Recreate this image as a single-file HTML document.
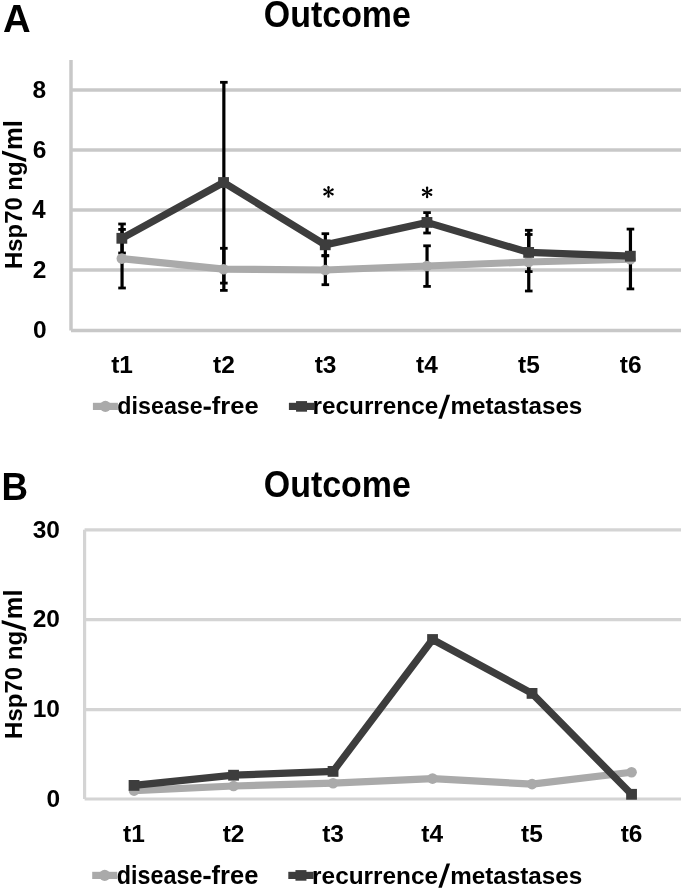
<!DOCTYPE html>
<html><head><meta charset="utf-8"><style>
html,body{margin:0;padding:0;background:#fff;width:685px;height:890px;overflow:hidden}
svg{display:block;filter:grayscale(1)}
.b{font-family:"Liberation Sans",sans-serif;font-weight:bold;fill:#000}
</style></head><body>
<svg width="685" height="890" viewBox="0 0 685 890">
<rect width="685" height="890" fill="#fff"/>
<text transform="translate(2.95,31.90) scale(0.38333,0.39559)" font-size="100" class="b">A</text>
<text transform="translate(263.84,26.73) scale(0.33944,0.36620)" font-size="100" class="b">Outcome</text>
<text transform="translate(21.90,150.10) rotate(-90) scale(0.25728,0.25479)" font-size="100" class="b">ml</text>
<polygon points="2.0,150.6 2.0,154.10 26.1,161.9 26.1,158.40" fill="#000"/>
<text transform="translate(21.85,268.97) rotate(-90) scale(0.23876,0.24066)" font-size="100" class="b">Hsp70 ng</text>
<line x1="71" y1="330.5" x2="681" y2="330.5" stroke="#c8c8c8" stroke-width="3.4"/>
<line x1="71" y1="270" x2="681" y2="270" stroke="#c8c8c8" stroke-width="3.4"/>
<line x1="71" y1="210" x2="681" y2="210" stroke="#c8c8c8" stroke-width="3.4"/>
<line x1="71" y1="150" x2="681" y2="150" stroke="#c8c8c8" stroke-width="3.4"/>
<line x1="71" y1="90" x2="681" y2="90" stroke="#c8c8c8" stroke-width="3.4"/>
<line x1="71" y1="60" x2="71" y2="330.5" stroke="#c8c8c8" stroke-width="3.5"/>
<text transform="translate(32.91,338.26) scale(0.24500,0.24225)" font-size="100" class="b">0</text>
<text transform="translate(32.66,278.00) scale(0.24500,0.24571)" font-size="100" class="b">2</text>
<text transform="translate(31.92,218.00) scale(0.24500,0.24928)" font-size="100" class="b">4</text>
<text transform="translate(32.66,157.76) scale(0.24500,0.24225)" font-size="100" class="b">6</text>
<text transform="translate(32.41,97.76) scale(0.24500,0.24225)" font-size="100" class="b">8</text>
<text transform="translate(111.19,373.16) scale(0.24500,0.24429)" font-size="100" class="b">t1</text>
<text transform="translate(213.02,373.16) scale(0.24500,0.24085)" font-size="100" class="b">t2</text>
<text transform="translate(314.71,373.16) scale(0.24500,0.24085)" font-size="100" class="b">t3</text>
<text transform="translate(416.05,373.16) scale(0.24500,0.24429)" font-size="100" class="b">t4</text>
<text transform="translate(517.99,373.16) scale(0.24500,0.24429)" font-size="100" class="b">t5</text>
<text transform="translate(619.82,373.16) scale(0.24500,0.24085)" font-size="100" class="b">t6</text>
<line x1="122.05" y1="224" x2="122.05" y2="253" stroke="#000" stroke-width="3.2"/>
<line x1="118.25" y1="224" x2="125.85" y2="224" stroke="#000" stroke-width="2.8"/>
<line x1="118.25" y1="253" x2="125.85" y2="253" stroke="#000" stroke-width="2.8"/>
<line x1="122.05" y1="229.4" x2="122.05" y2="288" stroke="#000" stroke-width="3.2"/>
<line x1="118.25" y1="229.4" x2="125.85" y2="229.4" stroke="#000" stroke-width="2.8"/>
<line x1="118.25" y1="288" x2="125.85" y2="288" stroke="#000" stroke-width="2.8"/>
<line x1="223.85" y1="82.3" x2="223.85" y2="283.1" stroke="#000" stroke-width="3.2"/>
<line x1="220.05" y1="82.3" x2="227.65" y2="82.3" stroke="#000" stroke-width="2.8"/>
<line x1="220.05" y1="283.1" x2="227.65" y2="283.1" stroke="#000" stroke-width="2.8"/>
<line x1="223.85" y1="248.3" x2="223.85" y2="290.4" stroke="#000" stroke-width="3.2"/>
<line x1="220.05" y1="248.3" x2="227.65" y2="248.3" stroke="#000" stroke-width="2.8"/>
<line x1="220.05" y1="290.4" x2="227.65" y2="290.4" stroke="#000" stroke-width="2.8"/>
<line x1="325.35" y1="233.7" x2="325.35" y2="255.9" stroke="#000" stroke-width="3.2"/>
<line x1="321.55" y1="233.7" x2="329.15" y2="233.7" stroke="#000" stroke-width="2.8"/>
<line x1="321.55" y1="255.9" x2="329.15" y2="255.9" stroke="#000" stroke-width="2.8"/>
<line x1="325.35" y1="255.5" x2="325.35" y2="284.7" stroke="#000" stroke-width="3.2"/>
<line x1="321.55" y1="255.5" x2="329.15" y2="255.5" stroke="#000" stroke-width="2.8"/>
<line x1="321.55" y1="284.7" x2="329.15" y2="284.7" stroke="#000" stroke-width="2.8"/>
<line x1="427.05" y1="212.6" x2="427.05" y2="233" stroke="#000" stroke-width="3.2"/>
<line x1="423.25" y1="212.6" x2="430.85" y2="212.6" stroke="#000" stroke-width="2.8"/>
<line x1="423.25" y1="233" x2="430.85" y2="233" stroke="#000" stroke-width="2.8"/>
<line x1="427.05" y1="245.8" x2="427.05" y2="286.4" stroke="#000" stroke-width="3.2"/>
<line x1="423.25" y1="245.8" x2="430.85" y2="245.8" stroke="#000" stroke-width="2.8"/>
<line x1="423.25" y1="286.4" x2="430.85" y2="286.4" stroke="#000" stroke-width="2.8"/>
<line x1="528.75" y1="230.3" x2="528.75" y2="271.6" stroke="#000" stroke-width="3.2"/>
<line x1="524.95" y1="230.3" x2="532.55" y2="230.3" stroke="#000" stroke-width="2.8"/>
<line x1="524.95" y1="271.6" x2="532.55" y2="271.6" stroke="#000" stroke-width="2.8"/>
<line x1="528.75" y1="234.5" x2="528.75" y2="291" stroke="#000" stroke-width="3.2"/>
<line x1="524.95" y1="234.5" x2="532.55" y2="234.5" stroke="#000" stroke-width="2.8"/>
<line x1="524.95" y1="291" x2="532.55" y2="291" stroke="#000" stroke-width="2.8"/>
<line x1="630.45" y1="229.1" x2="630.45" y2="288.9" stroke="#000" stroke-width="3.2"/>
<line x1="626.65" y1="229.1" x2="634.25" y2="229.1" stroke="#000" stroke-width="2.8"/>
<line x1="626.65" y1="288.9" x2="634.25" y2="288.9" stroke="#000" stroke-width="2.8"/>
<polyline points="121.85,258.6 223.55,269.2 325.25,270 426.95,266 528.65,262 630.35,259.2" fill="none" stroke="#aaaaaa" stroke-width="7.2" stroke-linejoin="round"/>
<circle cx="121.85" cy="258.6" r="5.3" fill="#aaaaaa"/>
<circle cx="223.55" cy="269.2" r="5.3" fill="#aaaaaa"/>
<circle cx="325.25" cy="270" r="5.3" fill="#aaaaaa"/>
<circle cx="426.95" cy="266" r="5.3" fill="#aaaaaa"/>
<circle cx="528.65" cy="262" r="5.3" fill="#aaaaaa"/>
<circle cx="630.35" cy="259.2" r="5.3" fill="#aaaaaa"/>
<polyline points="121.85,238.3 223.55,182.5 325.25,244.8 426.95,222.4 528.65,252.4 630.35,256.2" fill="none" stroke="#3d3d3d" stroke-width="7.2" stroke-linejoin="miter"/>
<rect x="116.45" y="232.9" width="10.8" height="10.8" fill="#3d3d3d"/>
<rect x="218.15" y="177.1" width="10.8" height="10.8" fill="#3d3d3d"/>
<rect x="319.85" y="239.4" width="10.8" height="10.8" fill="#3d3d3d"/>
<rect x="421.55" y="217.0" width="10.8" height="10.8" fill="#3d3d3d"/>
<rect x="523.25" y="247.0" width="10.8" height="10.8" fill="#3d3d3d"/>
<rect x="624.95" y="250.79999999999998" width="10.8" height="10.8" fill="#3d3d3d"/>
<path d="M329.05,191.90 L329.70,187.20 A1.2,1.2 0 0 0 327.30,187.20 L327.95,191.90 Z" fill="#000"/>
<path d="M328.77,192.38 L333.17,190.59 A1.2,1.2 0 0 0 331.97,188.51 L328.23,191.42 Z" fill="#000"/>
<path d="M328.23,192.38 L331.97,195.29 A1.2,1.2 0 0 0 333.17,193.21 L328.77,191.42 Z" fill="#000"/>
<path d="M327.95,191.90 L327.30,196.60 A1.2,1.2 0 0 0 329.70,196.60 L329.05,191.90 Z" fill="#000"/>
<path d="M328.23,191.42 L323.83,193.21 A1.2,1.2 0 0 0 325.03,195.29 L328.77,192.38 Z" fill="#000"/>
<path d="M328.77,191.42 L325.03,188.51 A1.2,1.2 0 0 0 323.83,190.59 L328.23,192.38 Z" fill="#000"/>
<circle cx="328.5" cy="191.9" r="1.1" fill="#000"/>
<path d="M427.65,192.40 L428.30,187.70 A1.2,1.2 0 0 0 425.90,187.70 L426.55,192.40 Z" fill="#000"/>
<path d="M427.38,192.88 L431.77,191.09 A1.2,1.2 0 0 0 430.57,189.01 L426.83,191.92 Z" fill="#000"/>
<path d="M426.83,192.88 L430.57,195.79 A1.2,1.2 0 0 0 431.77,193.71 L427.38,191.92 Z" fill="#000"/>
<path d="M426.55,192.40 L425.90,197.10 A1.2,1.2 0 0 0 428.30,197.10 L427.65,192.40 Z" fill="#000"/>
<path d="M426.83,191.92 L422.43,193.71 A1.2,1.2 0 0 0 423.63,195.79 L427.38,192.88 Z" fill="#000"/>
<path d="M427.38,191.92 L423.63,189.01 A1.2,1.2 0 0 0 422.43,191.09 L426.83,192.88 Z" fill="#000"/>
<circle cx="427.1" cy="192.4" r="1.1" fill="#000"/>
<line x1="92.9" y1="406.4" x2="117.9" y2="406.4" stroke="#aaaaaa" stroke-width="7.2"/>
<circle cx="105.40" cy="406.4" r="5.6" fill="#aaaaaa"/>
<line x1="288.9" y1="406.4" x2="314.2" y2="406.4" stroke="#3d3d3d" stroke-width="7.2"/>
<rect x="296.05" y="401.10" width="11" height="10.6" fill="#3d3d3d"/>
<text transform="translate(117.37,414.35) scale(0.23259,0.24730)" font-size="100" class="b">disease</text>
<rect x="203.6" y="406.6" width="7.20" height="3.20" fill="#000"/>
<text transform="translate(211.79,414.35) scale(0.25562,0.24730)" font-size="100" class="b">free</text>
<text transform="translate(312.60,414.40) scale(0.24300,0.24730)" font-size="100" class="b">recurrence</text>
<polygon points="446.60,394.7 450.1,394.7 441.80,418.8 438.3,418.8" fill="#000"/>
<text transform="translate(450.41,414.40) scale(0.24213,0.24730)" font-size="100" class="b">metastases</text>
<text transform="translate(1.53,499.60) scale(0.36721,0.39275)" font-size="100" class="b">B</text>
<text transform="translate(263.84,496.64) scale(0.33944,0.36479)" font-size="100" class="b">Outcome</text>
<text transform="translate(21.90,619.18) rotate(-90) scale(0.25437,0.25479)" font-size="100" class="b">ml</text>
<polygon points="1.7,619.9 1.7,623.40 25.9,630.9 25.9,627.40" fill="#000"/>
<text transform="translate(21.85,738.98) rotate(-90) scale(0.24037,0.24066)" font-size="100" class="b">Hsp70 ng</text>
<line x1="84.6" y1="799" x2="681" y2="799" stroke="#d4d4d4" stroke-width="3.2"/>
<line x1="84.6" y1="709.6" x2="681" y2="709.6" stroke="#d4d4d4" stroke-width="3.2"/>
<line x1="84.6" y1="619.7" x2="681" y2="619.7" stroke="#d4d4d4" stroke-width="3.2"/>
<line x1="84.6" y1="529.8" x2="681" y2="529.8" stroke="#d4d4d4" stroke-width="3.2"/>
<line x1="84.6" y1="529.8" x2="84.6" y2="799" stroke="#d4d4d4" stroke-width="3.2"/>
<text transform="translate(46.41,806.76) scale(0.24500,0.24085)" font-size="100" class="b">0</text>
<text transform="translate(32.69,717.36) scale(0.24500,0.24085)" font-size="100" class="b">10</text>
<text transform="translate(32.69,627.46) scale(0.24500,0.24085)" font-size="100" class="b">20</text>
<text transform="translate(32.69,537.56) scale(0.24500,0.24085)" font-size="100" class="b">30</text>
<text transform="translate(123.09,842.06) scale(0.24500,0.24143)" font-size="100" class="b">t1</text>
<text transform="translate(222.72,842.06) scale(0.24500,0.23803)" font-size="100" class="b">t2</text>
<text transform="translate(322.21,842.06) scale(0.24500,0.23803)" font-size="100" class="b">t3</text>
<text transform="translate(421.35,842.06) scale(0.24500,0.24143)" font-size="100" class="b">t4</text>
<text transform="translate(521.09,842.06) scale(0.24500,0.24143)" font-size="100" class="b">t5</text>
<text transform="translate(620.72,842.06) scale(0.24500,0.23803)" font-size="100" class="b">t6</text>
<polyline points="134.05,790.6 233.55,786 333.05,783.2 432.55,778.6 532.05,784.1 631.55,772.2" fill="none" stroke="#aaaaaa" stroke-width="7.2" stroke-linejoin="round"/>
<circle cx="134.05" cy="790.6" r="5.3" fill="#aaaaaa"/>
<circle cx="233.55" cy="786" r="5.3" fill="#aaaaaa"/>
<circle cx="333.05" cy="783.2" r="5.3" fill="#aaaaaa"/>
<circle cx="432.55" cy="778.6" r="5.3" fill="#aaaaaa"/>
<circle cx="532.05" cy="784.1" r="5.3" fill="#aaaaaa"/>
<circle cx="631.55" cy="772.2" r="5.3" fill="#aaaaaa"/>
<polyline points="134.05,785.4 233.55,775.2 333.05,771.4 432.55,639.5 532.05,693.4 631.55,794.3" fill="none" stroke="#3d3d3d" stroke-width="7.2" stroke-linejoin="miter"/>
<rect x="128.65" y="780.0" width="10.8" height="10.8" fill="#3d3d3d"/>
<rect x="228.15" y="769.8000000000001" width="10.8" height="10.8" fill="#3d3d3d"/>
<rect x="327.65" y="766.0" width="10.8" height="10.8" fill="#3d3d3d"/>
<rect x="427.15" y="634.1" width="10.8" height="10.8" fill="#3d3d3d"/>
<rect x="526.65" y="688.0" width="10.8" height="10.8" fill="#3d3d3d"/>
<rect x="626.15" y="788.9" width="10.8" height="10.8" fill="#3d3d3d"/>
<line x1="92.2" y1="875.4" x2="117.2" y2="875.4" stroke="#aaaaaa" stroke-width="7.2"/>
<circle cx="104.70" cy="875.4" r="5.6" fill="#aaaaaa"/>
<line x1="288.3" y1="875.4" x2="313.6" y2="875.4" stroke="#3d3d3d" stroke-width="7.2"/>
<rect x="295.45" y="870.10" width="11" height="10.6" fill="#3d3d3d"/>
<text transform="translate(116.87,883.65) scale(0.23343,0.24865)" font-size="100" class="b">disease</text>
<rect x="203.4" y="875.9" width="7.20" height="3.20" fill="#000"/>
<text transform="translate(211.59,883.65) scale(0.25562,0.24865)" font-size="100" class="b">free</text>
<text transform="translate(312.09,883.70) scale(0.24398,0.24730)" font-size="100" class="b">recurrence</text>
<polygon points="446.60,863.5 450.1,863.5 441.80,887.7 438.3,887.7" fill="#000"/>
<text transform="translate(450.30,883.70) scale(0.24232,0.24730)" font-size="100" class="b">metastases</text>
</svg>
</body></html>
